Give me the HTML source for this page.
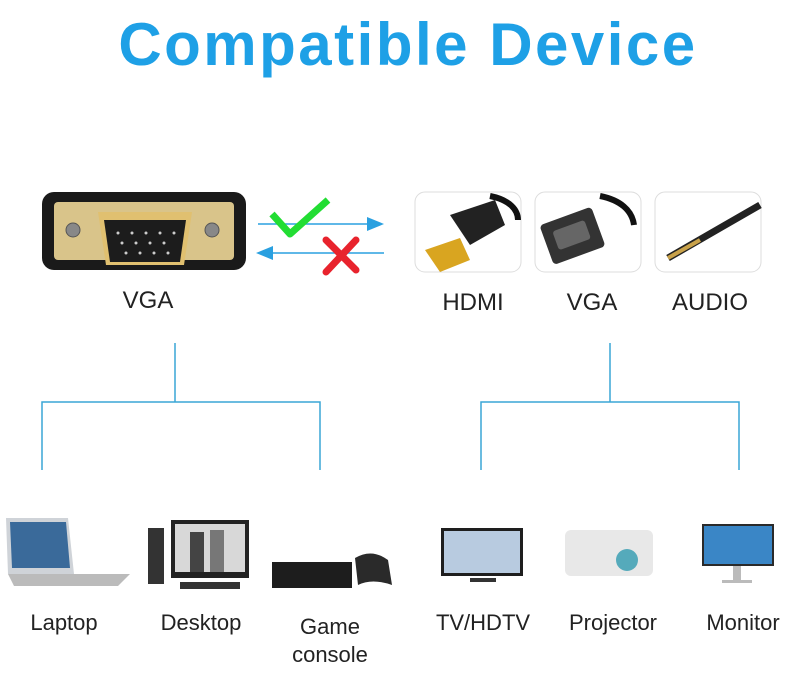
<!DOCTYPE html>
<html><head><meta charset="utf-8"><style>
html,body{margin:0;padding:0;background:#fff;width:803px;height:683px;overflow:hidden}
svg{display:block}
</style></head><body>
<svg width="803" height="683" viewBox="0 0 803 683" xmlns="http://www.w3.org/2000/svg" font-family="Liberation Sans, sans-serif">
<text x="408" y="65" text-anchor="middle" font-size="60" font-weight="bold" fill="#1ea0e6" letter-spacing="2.5">Compatible Device</text>
<!-- VGA connector -->
<rect x="42" y="192" width="204" height="78" rx="12" fill="#1a1a1a"/>
<rect x="54" y="202" width="180" height="58" rx="4" fill="#d9c48a"/>
<circle cx="73" cy="230" r="7" fill="#888" stroke="#555"/>
<circle cx="212" cy="230" r="7" fill="#888" stroke="#555"/>
<path d="M98 212 H192 L184 265 H106 Z" fill="#e0c070"/>
<path d="M104 220 H186 L180 262 H110 Z" fill="#1c1c1c"/>
<g fill="#ccc"><circle cx="118" cy="233" r="1.5"/><circle cx="132" cy="233" r="1.5"/><circle cx="146" cy="233" r="1.5"/><circle cx="160" cy="233" r="1.5"/><circle cx="174" cy="233" r="1.5"/><circle cx="122" cy="243" r="1.5"/><circle cx="136" cy="243" r="1.5"/><circle cx="150" cy="243" r="1.5"/><circle cx="164" cy="243" r="1.5"/><circle cx="126" cy="253" r="1.5"/><circle cx="140" cy="253" r="1.5"/><circle cx="154" cy="253" r="1.5"/><circle cx="168" cy="253" r="1.5"/></g>
<!-- arrows -->
<line x1="258" y1="224" x2="368" y2="224" stroke="#2aa0e0" stroke-width="1.5"/>
<path d="M367 217 L384 224 L367 231 Z" fill="#2aa0e0"/>
<line x1="272" y1="253" x2="384" y2="253" stroke="#2aa0e0" stroke-width="1.5"/>
<path d="M273 246 L256 253 L273 260 Z" fill="#2aa0e0"/>
<path d="M272 214 L290 234 L328 200" fill="none" stroke="#22dd33" stroke-width="7" stroke-linejoin="round"/>
<path d="M326 240 L356 270 M356 240 L326 272" stroke="#e8232d" stroke-width="7" stroke-linecap="round"/>
<!-- icon boxes -->
<rect x="415" y="192" width="106" height="80" rx="10" fill="#fff" stroke="#ddd"/>
<rect x="535" y="192" width="106" height="80" rx="10" fill="#fff" stroke="#ddd"/>
<rect x="655" y="192" width="106" height="80" rx="10" fill="#fff" stroke="#ddd"/>
<path d="M490 196 C510 200 518 210 518 220" stroke="#111" stroke-width="6" fill="none"/>
<path d="M450 215 L495 200 L505 225 L470 245 Z" fill="#222"/>
<path d="M425 250 L460 238 L470 260 L440 272 Z" fill="#d9a520"/>
<path d="M600 196 C620 200 632 210 634 225" stroke="#111" stroke-width="6" fill="none"/>
<rect x="545" y="215" width="55" height="42" rx="4" fill="#333" transform="rotate(-20 572 236)"/>
<rect x="555" y="225" width="34" height="20" rx="3" fill="#666" transform="rotate(-20 572 236)"/>
<path d="M668 258 L720 228 L760 205" stroke="#222" stroke-width="7"/>
<path d="M668 258 L700 240" stroke="#c9a24a" stroke-width="4"/>
<!-- labels -->
<g font-size="24" fill="#222" text-anchor="middle">
<text x="148" y="308">VGA</text><text x="473" y="310">HDMI</text><text x="592" y="310">VGA</text><text x="710" y="310">AUDIO</text>
</g>
<!-- tree -->
<g stroke="#3aa6d6" stroke-width="1.5" fill="none">
<path d="M175 343 V402 M42 470 V402 H320 V470"/>
<path d="M610 343 V402 M481 470 V402 H739 V470"/>
</g>
<!-- devices -->
<path d="M6 518 H68 L74 574 H8 Z" fill="#cfd3d8"/><path d="M10 522 H66 L70 568 H12 Z" fill="#3a6a9a"/>
<path d="M8 574 H130 L118 586 H14 Z" fill="#bbb"/>
<rect x="148" y="528" width="16" height="56" fill="#333"/>
<rect x="171" y="520" width="78" height="58" fill="#222"/><rect x="175" y="524" width="70" height="48" fill="#d8d8d8"/>
<rect x="190" y="532" width="14" height="40" fill="#444"/><rect x="210" y="530" width="14" height="42" fill="#777"/>
<rect x="180" y="582" width="60" height="7" fill="#333"/>
<rect x="272" y="562" width="80" height="26" fill="#1d1d1d"/><path d="M355 558 Q372 548 388 560 L392 585 Q372 578 358 585 Z" fill="#2a2a2a"/>
<rect x="441" y="528" width="82" height="48" fill="#1e1e1e"/><rect x="444" y="531" width="76" height="42" fill="#b8cbe0"/><rect x="470" y="578" width="26" height="4" fill="#333"/>
<rect x="565" y="530" width="88" height="46" rx="6" fill="#e8e8e8"/><circle cx="627" cy="560" r="11" fill="#5ab"/>
<rect x="702" y="524" width="72" height="42" fill="#2a2a2a"/><rect x="704" y="526" width="68" height="38" fill="#3a86c6"/><rect x="733" y="566" width="8" height="14" fill="#bbb"/><rect x="722" y="580" width="30" height="3" fill="#bbb"/>
<g font-size="22" fill="#222" text-anchor="middle">
<text x="64" y="630">Laptop</text><text x="201" y="630">Desktop</text>
<text x="330" y="634">Game</text><text x="330" y="662">console</text>
<text x="483" y="630">TV/HDTV</text><text x="613" y="630">Projector</text><text x="743" y="630">Monitor</text>
</g>
</svg>
</body></html>
